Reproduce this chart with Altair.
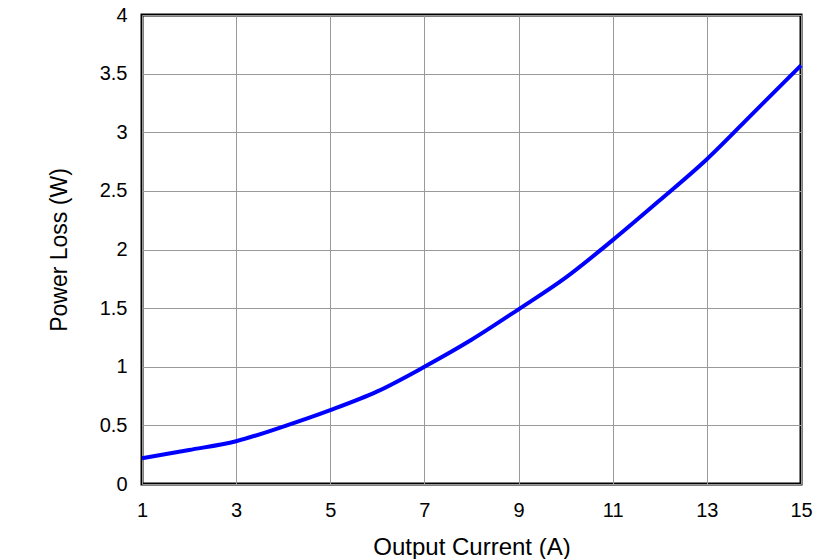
import altair as alt
import pandas as pd

current = [1, 2, 3, 4, 5, 6, 7, 8, 9, 10, 11, 12, 13, 14, 15]
power_loss = [0.22, 0.29, 0.365, 0.49, 0.63, 0.79, 1.0, 1.23, 1.49, 1.76, 2.08, 2.42, 2.77, 3.17, 3.57]
x_ticks = [1, 3, 5, 7, 9, 11, 13, 15]
y_ticks = [0, 0.5, 1, 1.5, 2, 2.5, 3, 3.5, 4]

df = pd.DataFrame({"current": current, "loss": power_loss})

FONT = "Liberation Sans"

chart = alt.Chart(df).mark_line(color="#0000FF", strokeWidth=4, interpolate="monotone").encode(
    x=alt.X("current:Q", title="Output Current (A)",
            scale=alt.Scale(domain=[1, 15], nice=False, zero=False),
            axis=alt.Axis(values=x_ticks, labelPadding=16, titlePadding=15, titleFontSize=24,
                          labelExpr="datum.value", labelFlush=False)),
    y=alt.Y("loss:Q", title="Power Loss (W)",
            scale=alt.Scale(domain=[0, 4], nice=False),
            axis=alt.Axis(values=y_ticks, labelPadding=15, titlePadding=28, titleFontSize=23,
                          labelExpr="datum.value", labelFlush=False)),
).properties(
    width=659, height=469,
    autosize=alt.AutoSizeParams(type="none"),
    padding={"left": 134, "top": 7, "right": 30, "bottom": 75},
).configure_view(
    stroke="black", strokeWidth=3
).configure_axis(
    domain=False, ticks=False, grid=True, gridColor="#999999", gridWidth=1,
    labelFont=FONT, labelFontSize=20, labelColor="black",
    titleFont=FONT, titleFontWeight="normal", titleColor="black",
)

chart.save("out.html", embed_options={"renderer": "svg", "actions": False})
